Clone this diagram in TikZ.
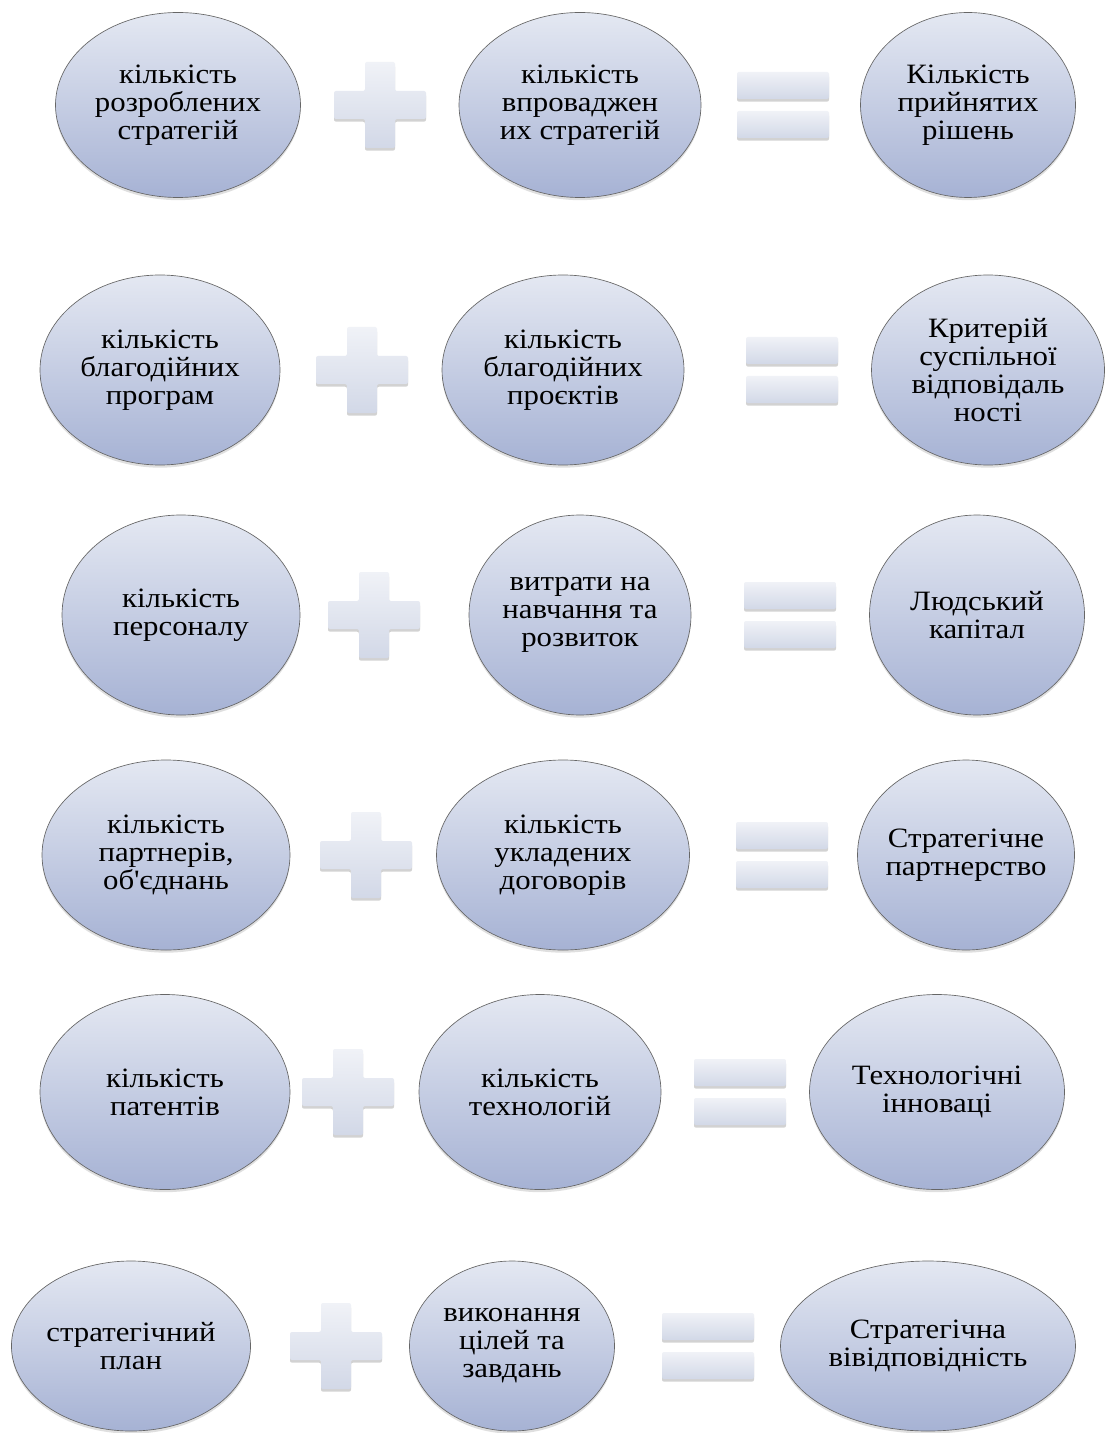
\documentclass[tikz,border=0pt]{standalone}
\usepackage{fontspec}
\setmainfont[FakeStretch=1.1]{Liberation Serif}
\usetikzlibrary{shapes.geometric,shadows}

\definecolor{ovaltop}{HTML}{E4E8F2}
\definecolor{ovalbot}{HTML}{A6B2D4}
\definecolor{signtop}{HTML}{F0F2F7}
\definecolor{signbot}{HTML}{D2D8E7}

\tikzset{
  oval/.style 2 args={ellipse, draw=black!60, line width=0.5pt,
    top color=ovaltop, bottom color=ovalbot,
    minimum width=#1*0.75pt, minimum height=#2*0.75pt,
    inner sep=0pt, align=center, font=\fontsize{21}{21}\selectfont,
    drop shadow={opacity=0.25, shadow xshift=0pt, shadow yshift=-2pt}},
  sign/.style={top color=signtop, bottom color=signbot, rounded corners=1.5pt,
    drop shadow={opacity=0.35, shadow xshift=0pt, shadow yshift=-2pt}},
  plusmark/.pic={
    \path[sign] (-15,-43) -- (15,-43) -- (15,-14) -- (46,-14) -- (46,14)
      -- (15,14) -- (15,43) -- (-15,43) -- (-15,14) -- (-46,14)
      -- (-46,-14) -- (-15,-14) -- cycle;},
  eqmark/.pic={
    \path[sign] (-46,-33) rectangle (46,-6);
    \path[sign] (-46,6) rectangle (46,33);}
}

\begin{document}
\begin{tikzpicture}[x=0.75pt, y=-0.75pt]
\useasboundingbox[fill=white] (0,0) rectangle (1109,1433);

% row 1
\node[oval={245}{185}] (r1a) at (178,105) {кількість\\розроблених\\стратегій};
\pic at (380,105) {plusmark};
\node[oval={242}{185}] (r1b) at (580,105) {кількість\\впроваджен\\их стратегій};
\pic at (783,105) {eqmark};
\node[oval={215}{185}] (r1c) at (968,105) {Кількість\\прийнятих\\рішень};

% row 2
\node[oval={240}{190}] (r2a) at (160,370) {кількість\\благодійних\\програм};
\pic at (362,370) {plusmark};
\node[oval={242}{190}] (r2b) at (563,370) {кількість\\благодійних\\проєктів};
\pic at (792,370) {eqmark};
\node[oval={233}{190}, inner xsep=-8pt] (r2c) at (988,370) {Критерій\\суспільної\\відповідаль\\ності};

% row 3
\node[oval={238}{200}] (r3a) at (181,615) {кількість\\персоналу};
\pic at (374,615) {plusmark};
\node[oval={222}{200}] (r3b) at (580,615) {витрати на\\навчання та\\розвиток};
\pic at (790,615) {eqmark};
\node[oval={215}{200}] (r3c) at (977,615) {Людський\\капітал};

% row 4
\node[oval={248}{190}] (r4a) at (166,855) {кількість\\партнерів,\\об\textquotesingle єднань};
\pic at (366,855) {plusmark};
\node[oval={253}{190}] (r4b) at (563,855) {кількість\\укладених\\договорів};
\pic at (782,855) {eqmark};
\node[oval={217}{190}, inner xsep=-12pt] (r4c) at (966,855) {Стратегічне\\партнерство};

% row 5
\node[oval={250}{195}] (r5a) at (165,1092) {кількість\\патентів};
\pic at (348,1092) {plusmark};
\node[oval={242}{195}] (r5b) at (540,1092) {кількість\\технологій};
\pic at (740,1092) {eqmark};
\node[oval={255}{195}] (r5c) at (937,1092) {Технологічні\\інноваці};

% row 6
\node[oval={238}{170}] (r6a) at (131,1346) {стратегічний\\план};
\pic at (336,1346) {plusmark};
\node[oval={205}{170}] (r6b) at (512,1346) {виконання\\цілей та\\завдань};
\pic at (708,1346) {eqmark};
\node[oval={295}{170}] (r6c) at (928,1346) {Стратегічна\\вівідповідність};
\end{tikzpicture}
\end{document}
